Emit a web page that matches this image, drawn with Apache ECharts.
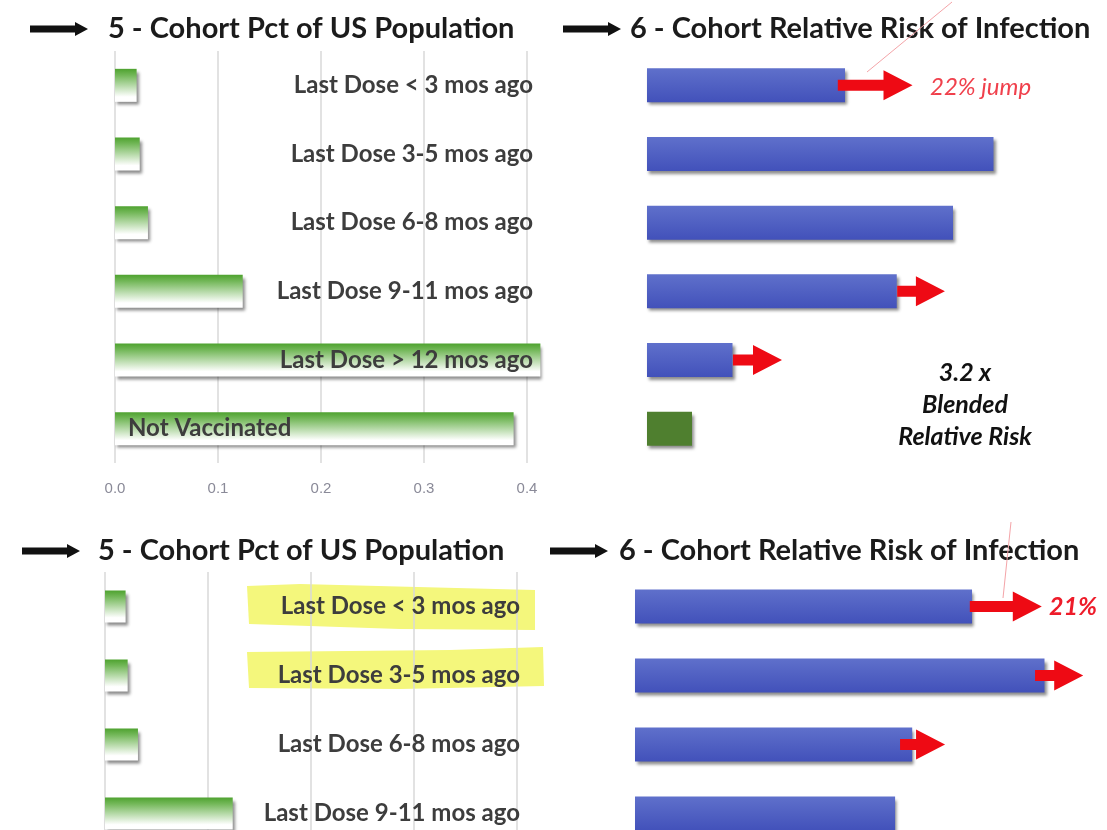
<!DOCTYPE html>
<html><head><meta charset="utf-8">
<script src="https://cdn.jsdelivr.net/npm/echarts@6/dist/echarts.min.js"></script>
<style>html,body{margin:0;padding:0;background:#fff}#c{width:1107px;height:830px}</style>
</head><body><div id="c"></div>
<script>
// ---- data ----
const topCategories = ['Last Dose < 3 mos ago','Last Dose 3-5 mos ago','Last Dose 6-8 mos ago','Last Dose 9-11 mos ago','Last Dose > 12 mos ago','Not Vaccinated'];
const topPopPct = [0.021, 0.024, 0.032, 0.124, 0.413, 0.387];
const topRelRisk = [4.4, 7.7, 6.8, 5.55, 1.9, 1.0];
const topArrows = [[0, 4.24, 5.9], [3, 5.56, 6.62], [4, 1.91, 3.0]];
const bottomCategories = ['Last Dose < 3 mos ago','Last Dose 3-5 mos ago','Last Dose 6-8 mos ago','Last Dose 9-11 mos ago'];
const bottomPopPct = [0.020, 0.022, 0.032, 0.124];
const bottomRelRisk = [7.49, 9.1, 6.16, 5.78];
const bottomArrows = [[0, 7.44, 9.04], [1, 8.89, 9.96], [2, 5.89, 6.89]];
const pctTicks = ['0.0','0.1','0.2','0.3','0.4'];
const titlePct = '5 - Cohort Pct of US Population';
const titleRisk = '6 - Cohort Relative Risk of Infection';

// ---- styles ----
const FONT = 'Lato, "Open Sans", sans-serif';
const greenGrad = new echarts.graphic.LinearGradient(0,0,0,1,[
  {offset:0,color:'#4ea22f'},{offset:0.2,color:'#74b85a'},{offset:0.85,color:'#ffffff'},{offset:1,color:'#ffffff'}]);
const blueGrad = new echarts.graphic.LinearGradient(0,0,0,1,[
  {offset:0,color:'#5f70cb'},{offset:1,color:'#4251ba'}]);
const barShadow = {shadowColor:'rgba(0,0,0,0.45)', shadowBlur:3, shadowOffsetX:2, shadowOffsetY:3};

function pctData(cats, vals, offRight){
  return vals.map((v,i)=>{
    const isNV = cats[i] === 'Not Vaccinated';
    return {value:v, name:cats[i], label:{show:true, position: isNV ? [13,'50%'] : [offRight,'50%'],
      align: isNV ? 'left' : 'right', verticalAlign:'middle'}};
  });
}
function riskData(cats, vals){
  return vals.map((v,i)=>({value:v, name:cats[i],
    itemStyle: cats[i]==='Not Vaccinated' ? {color:'#4f7f2f'} : {color:blueGrad}}));
}
function arrowItem(params, api){
  const cat = api.value(0), s = api.value(1), e = api.value(2);
  const p0 = api.coord([s, cat]), p1 = api.coord([e, cat]);
  const y = p0[1], headLen = 29, hh = 15, sh = 5.5, hx = p1[0]-headLen;
  return {type:'polygon', shape:{points:[[p0[0],y-sh],[hx,y-sh],[hx,y-hh],[p1[0],y],[hx,y+hh],[hx,y+sh],[p0[0],y+sh]]},
    style:{fill:'#ee0a14'}};
}
function blackArrow(x, y){
  return {type:'polygon', shape:{points:[[x,y-3.5],[x+45,y-3.5],[x+45,y-7],[x+58,y],[x+45,y+7],[x+45,y+3.5],[x,y+3.5]]},
    style:{fill:'#111'}};
}
function title(text, x, y){
  return {type:'text', x:x, y:y, style:{text:text, font:'bold 29px '+FONT, fill:'#1b1b1b', textVerticalAlign:'middle'}};
}

const labelStyle = {color:'#3d3d3d', fontFamily:FONT, fontWeight:'bold', fontSize:24, formatter:'{b}'};

const option = {
  animation:false,
  backgroundColor:'#fff',
  grid:[
    {left:115, top:51, width:412, height:412, outerBoundsMode:'none'},
    {left:647, top:51, width:450, height:412, outerBoundsMode:'none'},
    {left:105, top:572, width:412, height:276, outerBoundsMode:'none'},
    {left:635, top:572, width:450, height:276, outerBoundsMode:'none'}
  ],
  xAxis:[
    {gridIndex:0, type:'value', min:0, max:0.4, interval:0.1,
      axisLine:{show:false}, axisTick:{show:false},
      splitLine:{lineStyle:{color:'#d9d9d9', width:1.5}},
      axisLabel:{color:'#8a8a98', fontSize:15, fontFamily:'"Liberation Sans", sans-serif', margin:18,
        formatter:(v)=>pctTicks[Math.round(v*10)]}},
    {gridIndex:1, type:'value', min:0, max:10, show:false},
    {gridIndex:2, type:'value', min:0, max:0.4, interval:0.1,
      axisLine:{show:false}, axisTick:{show:false}, axisLabel:{show:false},
      splitLine:{lineStyle:{color:'#d9d9d9', width:1.5}}},
    {gridIndex:3, type:'value', min:0, max:10, show:false}
  ],
  yAxis:[
    {gridIndex:0, type:'category', data:topCategories, inverse:true, show:false},
    {gridIndex:1, type:'category', data:topCategories, inverse:true, show:false},
    {gridIndex:2, type:'category', data:bottomCategories, inverse:true, show:false},
    {gridIndex:3, type:'category', data:bottomCategories, inverse:true, show:false}
  ],
  series:[
    {type:'bar', xAxisIndex:0, yAxisIndex:0, barWidth:33, clip:false, data:pctData(topCategories, topPopPct, 418),
      itemStyle:Object.assign({color:greenGrad}, barShadow), label:labelStyle},
    {type:'bar', xAxisIndex:1, yAxisIndex:1, barWidth:34, data:riskData(topCategories, topRelRisk),
      itemStyle:Object.assign({}, barShadow)},
    {type:'custom', xAxisIndex:1, yAxisIndex:1, renderItem:arrowItem, data:topArrows, z:5, clip:false,
      encode:{x:[1,2], y:0}},
    {type:'bar', xAxisIndex:2, yAxisIndex:2, barWidth:32, clip:false, data:pctData(bottomCategories, bottomPopPct, 415),
      itemStyle:Object.assign({color:greenGrad}, barShadow), label:labelStyle},
    {type:'bar', xAxisIndex:3, yAxisIndex:3, barWidth:34, data:riskData(bottomCategories, bottomRelRisk),
      itemStyle:Object.assign({}, barShadow)},
    {type:'custom', xAxisIndex:3, yAxisIndex:3, renderItem:arrowItem, data:bottomArrows, z:5, clip:false,
      encode:{x:[1,2], y:0}}
  ],
  graphic:[
    // yellow highlights behind labels
    {type:'polygon', z:-1, shape:{points:[[247,586],[300,584],[535,590],[535,630],[400,629],[249,624]]}, style:{fill:'#f4f77c'}},
    {type:'polygon', z:-1, shape:{points:[[247,652],[450,650],[543,647],[544,686],[400,689],[249,688]]}, style:{fill:'#f4f77c'}},
    // titles
    blackArrow(30, 29), title(titlePct, 108, 29),
    blackArrow(563, 29), title(titleRisk, 630, 29),
    blackArrow(22, 551), title(titlePct, 98, 551),
    blackArrow(550, 551), title(titleRisk, 619, 551),
    // thin pink lines
    {type:'line', shape:{x1:867,y1:72,x2:952,y2:2}, style:{stroke:'#f4a4a8', lineWidth:1}},
    {type:'line', shape:{x1:1011,y1:522,x2:1003,y2:598}, style:{stroke:'#f4a4a8', lineWidth:1}},
    // annotations
    {type:'text', x:930, y:87, style:{text:'22% jump', font:'italic 24px '+FONT, fill:'#f0404c', textVerticalAlign:'middle'}},
    {type:'text', x:1049, y:607, style:{text:'21%', font:'italic bold 25px '+FONT, fill:'#ee1c2a', textVerticalAlign:'middle'}},
    {type:'text', x:965, y:373, style:{text:'3.2 x', font:'italic bold 25px '+FONT, fill:'#111', textAlign:'center', textVerticalAlign:'middle'}},
    {type:'text', x:965, y:405, style:{text:'Blended', font:'italic bold 25px '+FONT, fill:'#111', textAlign:'center', textVerticalAlign:'middle'}},
    {type:'text', x:965, y:437, style:{text:'Relative Risk', font:'italic bold 25px '+FONT, fill:'#111', textAlign:'center', textVerticalAlign:'middle'}}
  ]
};
const chart = echarts.init(document.getElementById('c'), null, {renderer:'canvas'});
chart.setOption(option);
</script>
</body></html>
